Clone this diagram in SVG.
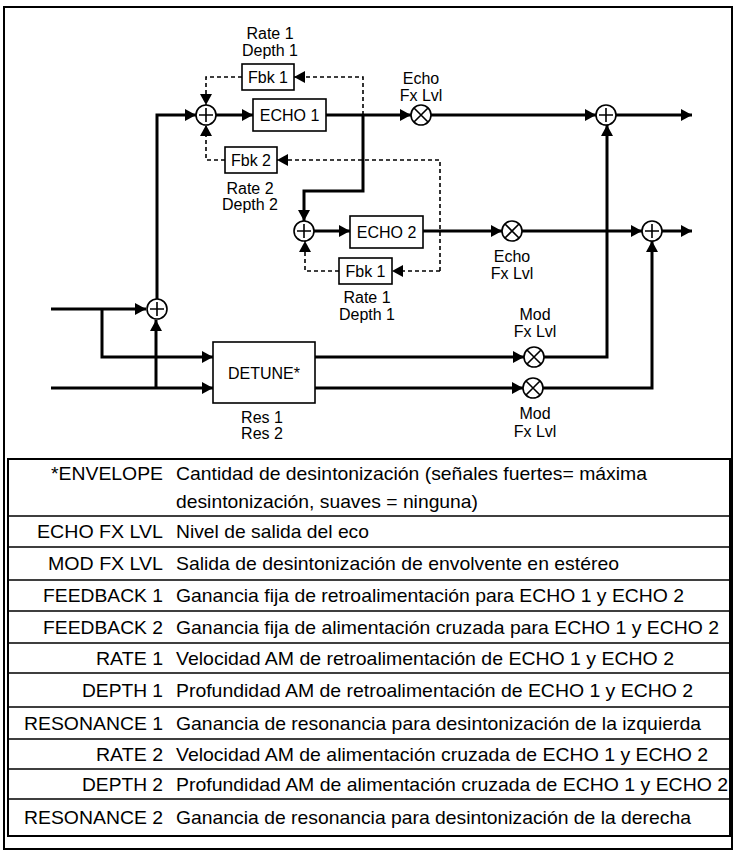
<svg xmlns="http://www.w3.org/2000/svg" width="734" height="853" viewBox="0 0 734 853">
<defs>
<marker id="a" markerUnits="userSpaceOnUse" markerWidth="11" markerHeight="12" refX="11" refY="6" orient="auto"><path d="M0,0 L11,6 L0,12 z" fill="#000"/></marker>
<style>
.s{fill:none;stroke:#000;stroke-width:3}
.d{fill:none;stroke:#000;stroke-width:1.6;stroke-dasharray:4 3}
.b{fill:#fff;stroke:#000;stroke-width:1.6}
.c{fill:#fff;stroke:#000;stroke-width:1.6}
.t{font-family:"Liberation Sans",Arial,sans-serif;font-size:16px;fill:#000}
.m{text-anchor:middle}
.r{text-anchor:end}
.g{stroke:#000;stroke-width:1.6}
</style>
</defs>
<rect x="4" y="7" width="728" height="842" fill="#fff" stroke="#000" stroke-width="2"/>
<g id="connectors">
<path class="s" d="M51,309 H146" marker-end="url(#a)"/>
<path class="s" d="M102,309 V357 H213" marker-end="url(#a)"/>
<path class="s" d="M51,388 H213" marker-end="url(#a)"/>
<path class="s" d="M156,388 V320" marker-end="url(#a)"/>
<path class="s" d="M157,299 V115 H196" marker-end="url(#a)"/>
<path class="s" d="M216,115 H253" marker-end="url(#a)"/>
<path class="s" d="M326,115 H411" marker-end="url(#a)"/>
<path class="s" d="M431,115 H596" marker-end="url(#a)"/>
<path class="s" d="M616,115 H692" marker-end="url(#a)"/>
<path class="s" d="M363,115 V191 H304 V221" marker-end="url(#a)"/>
<path class="s" d="M314,231 H350" marker-end="url(#a)"/>
<path class="s" d="M423,231 H502" marker-end="url(#a)"/>
<path class="s" d="M522,231 H642" marker-end="url(#a)"/>
<path class="s" d="M662,231 H692" marker-end="url(#a)"/>
<path class="s" d="M315,357 H524" marker-end="url(#a)"/>
<path class="s" d="M315,388 H523" marker-end="url(#a)"/>
<path class="s" d="M544,357 H607 V125" marker-end="url(#a)"/>
<path class="s" d="M543,388 H652 V241" marker-end="url(#a)"/>
<path class="d" d="M363,115 V77 H294" marker-end="url(#a)"/>
<path class="d" d="M242,77 H206 V105" marker-end="url(#a)"/>
<path class="d" d="M440,271 V160 H277" marker-end="url(#a)"/>
<path class="d" d="M225,160 H206 V125" marker-end="url(#a)"/>
<path class="d" d="M440,271 H392" marker-end="url(#a)"/>
<path class="d" d="M339,271 H305 V241" marker-end="url(#a)"/>
</g>
<g id="sum1"><circle class="c" cx="206" cy="115" r="10"/><path class="g" d="M199,115 H213 M206,108 V122"/></g>
<g id="sum2"><circle class="c" cx="304" cy="231" r="10"/><path class="g" d="M297,231 H311 M304,224 V238"/></g>
<g id="sum3"><circle class="c" cx="157" cy="309" r="10"/><path class="g" d="M150,309 H164 M157,302 V316"/></g>
<g id="sum4"><circle class="c" cx="606" cy="115" r="10"/><path class="g" d="M599,115 H613 M606,108 V122"/></g>
<g id="sum5"><circle class="c" cx="652" cy="231" r="10"/><path class="g" d="M645,231 H659 M652,224 V238"/></g>
<g id="mult1"><circle class="c" cx="421" cy="115" r="10"/><path class="g" d="M414,108 L428,122 M428,108 L414,122"/></g>
<g id="mult2"><circle class="c" cx="512" cy="231" r="10"/><path class="g" d="M505,224 L519,238 M519,224 L505,238"/></g>
<g id="mult3"><circle class="c" cx="534" cy="357" r="10"/><path class="g" d="M527,350 L541,364 M541,350 L527,364"/></g>
<g id="mult4"><circle class="c" cx="533" cy="388" r="10"/><path class="g" d="M526,381 L540,395 M540,381 L526,395"/></g>
<g id="echo1"><rect class="b" x="253" y="99" width="73" height="32"/><text class="t m" x="289.5" y="121">ECHO 1</text></g>
<g id="echo2"><rect class="b" x="350" y="216" width="73" height="32"/><text class="t m" x="386.5" y="238">ECHO 2</text></g>
<g id="fbk1a"><rect class="b" x="242" y="64" width="52" height="26"/><text class="t m" x="268" y="83">Fbk 1</text></g>
<g id="fbk2"><rect class="b" x="225" y="147" width="52" height="26"/><text class="t m" x="251" y="166">Fbk 2</text></g>
<g id="fbk1b"><rect class="b" x="339" y="258" width="53" height="26"/><text class="t m" x="365.5" y="277">Fbk 1</text></g>
<g id="detune"><rect class="b" x="213" y="342" width="102" height="61"/><text class="t m" x="264" y="379">DETUNE*</text></g>
<g id="labels">
<text class="t m" x="270" y="39">Rate 1</text><text class="t m" x="270" y="56">Depth 1</text>
<text class="t m" x="421" y="84">Echo</text><text class="t m" x="421" y="101">Fx Lvl</text>
<text class="t m" x="250" y="194">Rate 2</text><text class="t m" x="250" y="210">Depth 2</text>
<text class="t m" x="512" y="262">Echo</text><text class="t m" x="512" y="279">Fx Lvl</text>
<text class="t m" x="367" y="303">Rate 1</text><text class="t m" x="367" y="320">Depth 1</text>
<text class="t m" x="535" y="320">Mod</text><text class="t m" x="535" y="337">Fx Lvl</text>
<text class="t m" x="535" y="419">Mod</text><text class="t m" x="535" y="437">Fx Lvl</text>
<text class="t m" x="262" y="423">Res 1</text><text class="t m" x="262" y="439">Res 2</text>
</g>
<g id="table">
<rect x="8" y="459" width="722" height="377" fill="none" stroke="#000" stroke-width="2"/>
<path d="M8,516 H730 M8,547 H730 M8,580 H730 M8,611 H730 M8,643 H730 M8,673 H730 M8,707 H730 M8,739 H730 M8,769 H730 M8,799 H730" stroke="#000" stroke-width="1.6"/>
<g class="t" style="font-size:19px">
<text x="51" y="480" textLength="112" lengthAdjust="spacingAndGlyphs">*ENVELOPE</text>
<text x="176" y="480" textLength="471" lengthAdjust="spacingAndGlyphs">Cantidad de desintonización (señales fuertes= máxima</text>
<text x="176" y="508" textLength="302" lengthAdjust="spacingAndGlyphs">desintonización, suaves = ninguna)</text>
<text x="37" y="538" textLength="126" lengthAdjust="spacingAndGlyphs">ECHO FX LVL</text>
<text x="176" y="538" textLength="193" lengthAdjust="spacingAndGlyphs">Nivel de salida del eco</text>
<text x="48" y="570" textLength="115" lengthAdjust="spacingAndGlyphs">MOD FX LVL</text>
<text x="176" y="570" textLength="443" lengthAdjust="spacingAndGlyphs">Salida de desintonización de envolvente en estéreo</text>
<text x="43" y="602" textLength="120" lengthAdjust="spacingAndGlyphs">FEEDBACK 1</text>
<text x="176" y="602" textLength="508" lengthAdjust="spacingAndGlyphs">Ganancia fija de retroalimentación para ECHO 1 y ECHO 2</text>
<text x="43" y="634" textLength="120" lengthAdjust="spacingAndGlyphs">FEEDBACK 2</text>
<text x="176" y="634" textLength="543" lengthAdjust="spacingAndGlyphs">Ganancia fija de alimentación cruzada para ECHO 1 y ECHO 2</text>
<text x="96" y="665" textLength="67" lengthAdjust="spacingAndGlyphs">RATE 1</text>
<text x="176" y="665" textLength="498" lengthAdjust="spacingAndGlyphs">Velocidad AM de retroalimentación de ECHO 1 y ECHO 2</text>
<text x="82" y="697" textLength="81" lengthAdjust="spacingAndGlyphs">DEPTH 1</text>
<text x="176" y="697" textLength="517" lengthAdjust="spacingAndGlyphs">Profundidad AM de retroalimentación de ECHO 1 y ECHO 2</text>
<text x="24" y="730" textLength="139" lengthAdjust="spacingAndGlyphs">RESONANCE 1</text>
<text x="176" y="730" textLength="525" lengthAdjust="spacingAndGlyphs">Ganancia de resonancia para desintonización de la izquierda</text>
<text x="96" y="761" textLength="67" lengthAdjust="spacingAndGlyphs">RATE 2</text>
<text x="176" y="761" textLength="532" lengthAdjust="spacingAndGlyphs">Velocidad AM de alimentación cruzada de ECHO 1 y ECHO 2</text>
<text x="82" y="791" textLength="81" lengthAdjust="spacingAndGlyphs">DEPTH 2</text>
<text x="176" y="791" textLength="552" lengthAdjust="spacingAndGlyphs">Profundidad AM de alimentación cruzada de ECHO 1 y ECHO 2</text>
<text x="24" y="824" textLength="139" lengthAdjust="spacingAndGlyphs">RESONANCE 2</text>
<text x="176" y="824" textLength="515" lengthAdjust="spacingAndGlyphs">Ganancia de resonancia para desintonización de la derecha</text>
</g>
</g>
</svg>
